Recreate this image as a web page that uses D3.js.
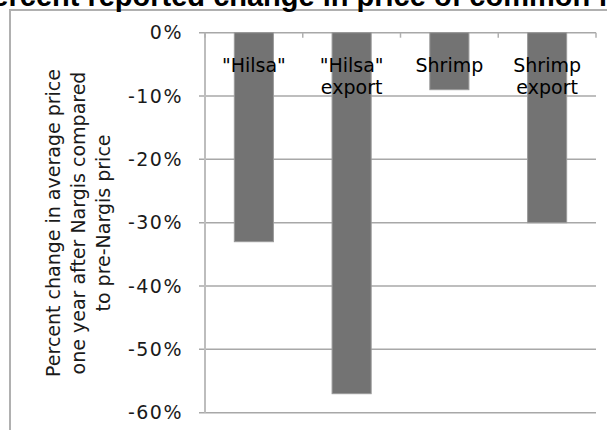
<!DOCTYPE html>
<html>
<head>
<meta charset="utf-8">
<script src="https://cdn.jsdelivr.net/npm/d3@7"></script>
<style>
  html, body { margin: 0; padding: 0; background: #fff; }
  svg { display: block; }
</style>
</head>
<body>
<svg id="chart" width="607" height="430"></svg>
<script>
// Categories (label lines) and percent change values
const categories = ['"Hilsa"', '"Hilsa" export', 'Shrimp', 'Shrimp export'];
const categoryLines = [['"Hilsa"'], ['"Hilsa"', 'export'], ['Shrimp'], ['Shrimp', 'export']];
const values = [-0.33, -0.57, -0.09, -0.30];
const yTicks = [0, -0.1, -0.2, -0.3, -0.4, -0.5, -0.6];
const titleText = "Percent reported change in price of common fish";
const yTitleLines = ["Percent change in average price", "one year after Nargis compared", "to pre-Nargis price"];

const svg = d3.select("#chart");
const font = "'DejaVu Sans', Verdana, sans-serif";

const plot = { left: 205, right: 596, top: 32.7, bottom: 412.7 };

const x = d3.scaleBand()
  .domain(categories)
  .range([plot.left, plot.right])
  .paddingInner(0.6)
  .paddingOuter(0.3);

const y = d3.scaleLinear()
  .domain([-0.6, 0])
  .range([plot.bottom, plot.top]);

const fmt = d => d3.format(".0%")(d).replace("\u2212", "-");

// Chart frame border (top and left edges visible)
svg.append("path")
  .attr("d", "M10,432 L10,10 L609,10")
  .attr("fill", "none")
  .attr("stroke", "#b0b0b0")
  .attr("stroke-width", 2);

// Title
svg.append("text")
  .attr("x", -27)
  .attr("y", 6)
  .attr("font-family", "'Liberation Sans', Arial, sans-serif")
  .attr("font-weight", "bold")
  .attr("font-size", 29)
  .attr("fill", "#000")
  .text(titleText);

// Horizontal gridlines
svg.append("g")
  .selectAll("line")
  .data(yTicks)
  .join("line")
  .attr("x1", plot.left - 6)
  .attr("x2", plot.right)
  .attr("y1", d => y(d))
  .attr("y2", d => y(d))
  .attr("stroke", "#a8a8a8")
  .attr("stroke-width", 1.5);

// Bars
svg.append("g")
  .selectAll("rect")
  .data(values)
  .join("rect")
  .attr("x", (d, i) => x(categories[i]))
  .attr("width", x.bandwidth())
  .attr("y", d => y(Math.max(0, d)))
  .attr("height", d => Math.abs(y(d) - y(0)))
  .attr("fill", "#737373")
  .attr("stroke", "#9a9a9a")
  .attr("stroke-width", 1);

// Y axis
const yAxis = d3.axisLeft(y)
  .tickValues(yTicks)
  .tickFormat(fmt)
  .tickSize(6)
  .tickPadding(16);

const yg = svg.append("g")
  .attr("transform", `translate(${plot.left},0)`)
  .call(yAxis);
yg.select(".domain").remove();
yg.selectAll(".tick line").remove();
yg.selectAll(".tick text")
  .attr("font-family", font)
  .attr("font-size", 19)
  .attr("letter-spacing", 1.5)
  .attr("fill", "#1a1a1a");

svg.append("line")
  .attr("x1", plot.left).attr("x2", plot.left)
  .attr("y1", plot.top).attr("y2", plot.bottom)
  .attr("stroke", "#bdbdbd")
  .attr("stroke-width", 2);

// Category boundary ticks along the zero line
const boundaries = categories.map(c => x(c) + x.bandwidth() / 2 - x.step() / 2)
  .concat([x(categories[categories.length - 1]) + x.bandwidth() / 2 + x.step() / 2]);
svg.append("g")
  .selectAll("line")
  .data(boundaries)
  .join("line")
  .attr("x1", d => d).attr("x2", d => d)
  .attr("y1", y(0)).attr("y2", y(0) + 5)
  .attr("stroke", "#b0b0b0")
  .attr("stroke-width", 1.5);

// Category labels near the zero line
const labels = svg.append("g")
  .selectAll("text")
  .data(categoryLines)
  .join("text")
  .attr("text-anchor", "middle")
  .attr("font-family", font)
  .attr("font-size", 19)
  .attr("fill", "#000")
  .attr("transform", (d, i) => `translate(${x(categories[i]) + x.bandwidth() / 2},72)`);
labels.selectAll("tspan")
  .data(d => d)
  .join("tspan")
  .attr("x", 0)
  .attr("y", (d, j) => j * 22)
  .text(d => d);

// Y axis title
const yTitle = svg.append("text")
  .attr("transform", "translate(60,223) rotate(-90)")
  .attr("text-anchor", "middle")
  .attr("font-family", font)
  .attr("font-size", 19)
  .attr("fill", "#1a1a1a");
yTitle.selectAll("tspan")
  .data(yTitleLines)
  .join("tspan")
  .attr("x", 0)
  .attr("y", (d, j) => j * 25)
  .text(d => d);
</script>
</body>
</html>
